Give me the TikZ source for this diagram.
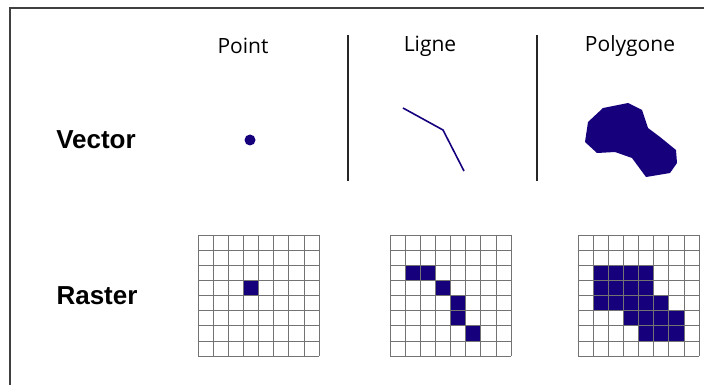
\documentclass[tikz,border=0pt]{standalone}
\usepackage{fontspec}
\setmainfont{Open Sans}
\newfontfamily\labelfont{Liberation Sans}
\usetikzlibrary{positioning}
\definecolor{navy}{RGB}{22,0,124}

\begin{document}
\begin{tikzpicture}[x=1pt,y=-1pt,
  gridline/.style={draw=black!55,line width=.7pt},
  divider/.style={line width=1.8pt,black!85},
  heading/.style={font=\fontsize{21}{24}\selectfont},
  rowname/.style={font=\labelfont\bfseries\fontsize{26}{29}\selectfont}]
\useasboundingbox (0,0) rectangle (704,385);
\draw[line width=1.8pt,black!75] (10,385)--(10,8)--(704,8);
% column headings and row names
\node[heading] (point) at (243,46) {Point};
\node[heading] (ligne) at (430,46) {Ligne};
\node[heading] (polygone) at (630,46) {Polygone};
\node[rowname] (vector) at (96,140) {Vector};
\node[rowname] (raster) at (97,296) {Raster};
\draw[divider] (348,35)--(348,181);
\draw[divider] (537,35)--(537,181);
% vector shapes
\fill[navy] (250,140) circle (5.5);
\coordinate (l1) at (403,108);
\coordinate (l2) at (443,130);
\coordinate (l3) at (464,171);
\draw[navy,line width=1.6pt] (l1)--(l2)--(l3);
\fill[navy] (585,142)--(588,122)--(603,108)--(628,103)--(642,110)--(648,128)
  --(660,137)--(676,150)--(677,163)--(670,173)--(646,177)--(632,158)
  --(615,152)--(597,153)--cycle;
% raster cells
\foreach \gx/\c/\r in {198/3/3,
    390/1/2,390/2/2,390/3/3,390/4/4,390/4/5,390/5/6,
    578/1/2,578/2/2,578/3/2,578/4/2,578/1/3,578/2/3,578/3/3,578/4/3,
    578/1/4,578/2/4,578/3/4,578/4/4,578/5/4,578/3/5,578/4/5,578/5/5,578/6/5,
    578/4/6,578/5/6,578/6/6}
  \fill[navy] (\gx+\c*15.125,235+\r*15.125) rectangle ++(15.125,15.125);
\foreach \gx in {198,390,578}{
  \foreach \i in {0,...,8}{
    \draw[gridline] (\gx+\i*15.125,235)--(\gx+\i*15.125,356);
    \draw[gridline] (\gx,235+\i*15.125)--(\gx+121,235+\i*15.125);
  }
}
\end{tikzpicture}
\end{document}
